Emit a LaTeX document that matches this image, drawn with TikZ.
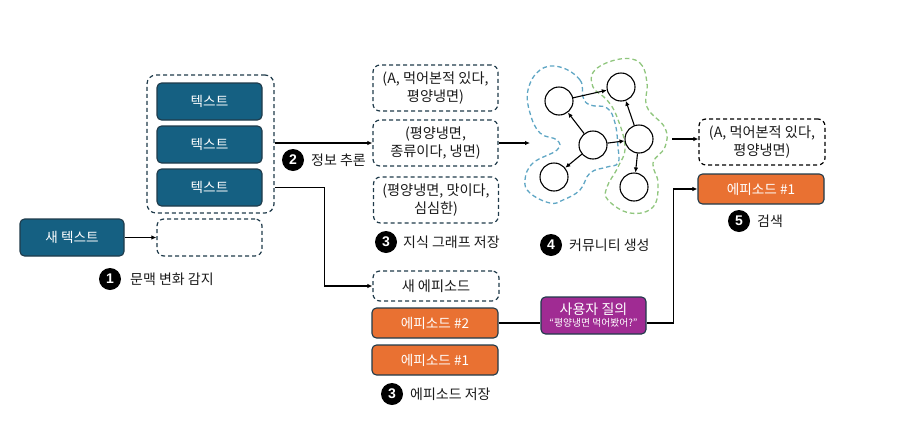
\documentclass[tikz,border=0pt]{standalone}
\usepackage{fontspec}
\setmainfont{Noto Sans CJK KR}
\newfontfamily\numfont{Liberation Sans}
\usetikzlibrary{arrows.meta}
\definecolor{tealbox}{HTML}{156082}
\definecolor{edgedark}{HTML}{1F3A4A}
\definecolor{orangebox}{HTML}{E97132}
\definecolor{purplebox}{HTML}{A02B93}
\definecolor{commblue}{HTML}{5FA6C4}
\definecolor{commgreen}{HTML}{90C67E}
\definecolor{inktext}{HTML}{1A1A1A}
\tikzset{
  solidbox/.style={draw=edgedark,line width=1.1pt,rounded corners=4.5pt,inner sep=0pt,text=white,font=\fontsize{13.6}{15}\selectfont,align=center},
  textbox/.style={solidbox,fill=tealbox,minimum width=105pt,minimum height=37pt},
  epbox/.style={solidbox,fill=orangebox,minimum width=126pt,minimum height=30pt},
  dashbox/.style={draw=edgedark,line width=1.2pt,dash pattern=on 4pt off 3pt,rounded corners=7pt,inner sep=0pt,text=inktext,font=\fontsize{14.2}{18}\selectfont,align=center},
  kgbox/.style={dashbox,minimum width=125pt,minimum height=46pt},
  ent/.style={circle,draw=black,line width=1.1pt,minimum size=28pt,inner sep=0pt},
  badge/.style={circle,fill=black,text=white,minimum size=22pt,inner sep=0pt,font=\numfont\bfseries\fontsize{14}{14}\selectfont},
  captext/.style={anchor=west,inner sep=0pt,text=inktext,font=\fontsize{14}{16}\selectfont},
  conn/.style={draw=black,line width=1.1pt},
  arr/.style={conn,-{Latex[length=5pt,width=4.5pt]}},
  commline/.style={line width=1.3pt,dash pattern=on 4.5pt off 3pt}
}
\begin{document}
\begin{tikzpicture}[x=1pt,y=-1pt]
\useasboundingbox (0,0) rectangle (911,437);
% communities
\draw[commline,draw=commblue] plot[smooth cycle,tension=.7] coordinates {
 (560,67) (580,80) (583,97) (590,105) (607,108) (615,123) (618,147) (618,163) (607,167) (590,173) (580,190) (563,200) (550,203) (530,193) (525,180) (533,163) (557,150) (557,140) (540,133) (530,113) (528,90) (540,70)};
\draw[commline,draw=commgreen] plot[smooth cycle,tension=.7] coordinates {
 (620,59) (640,63) (647,83) (647,107) (665,128) (665,147) (653,163) (658,183) (653,207) (630,213) (608,200) (607,187) (618,167) (625,147) (617,117) (607,100) (593,87) (595,70)};
% left column
\node[textbox] (tb1) at (209.5,101.5) {텍스트};
\node[textbox] (tb2) at (209.5,144.5) {텍스트};
\node[textbox] (tb3) at (209.5,187.5) {텍스트};
\node[dashbox,minimum width=127pt,minimum height=138pt,rounded corners=9pt] (outer) at (210.5,144) {};
\node[dashbox,minimum width=105pt,minimum height=37pt] (slot) at (209.5,237.5) {};
\node[textbox,minimum width=104pt] (newtext) at (72,237.5) {새 텍스트};
\node[badge] (b1) at (110,279) {1};
\node[captext] (c1) at (130,279) {문맥 변화 감지};
\node[badge] (b2) at (293,160) {2};
\node[captext] (c2) at (311,160) {정보 추론};
% knowledge graph triples
\node[kgbox] (kg1) at (435.5,88) {(A, 먹어본적 있다,\\평양냉면)};
\node[kgbox] (kg2) at (435.5,143) {(평양냉면,\\종류이다, 냉면)};
\node[kgbox] (kg3) at (436,200) {(평양냉면, 맛이다,\\심심한)};
\node[badge] (b3) at (386,242) {3};
\node[captext] (c3) at (403,242) {지식 그래프 저장};
% episodes
\node[dashbox,minimum width=126pt,minimum height=30pt] (epnew) at (436,286) {새 에피소드};
\node[epbox] (ep2) at (435,323) {에피소드 \#2};
\node[epbox] (ep1) at (435,360) {에피소드 \#1};
\node[badge] (b3e) at (392,394) {3};
\node[captext] (c3e) at (410,394) {에피소드 저장};
% query
\node[solidbox,fill=purplebox,minimum width=105pt,minimum height=37pt] (query) at (593.5,315.5) {\fontsize{14}{16}\selectfont 사용자 질의\\[-3pt]\fontsize{9.8}{11}\selectfont “평양냉면 먹어봤어?”};
% graph
\node[ent] (n1) at (559,101) {};
\node[ent] (n2) at (621,87) {};
\node[ent] (n3) at (593,145) {};
\node[ent] (n4) at (639,139) {};
\node[ent] (n5) at (554,177) {};
\node[ent] (n6) at (634,187) {};
\draw[arr] (n1) -- (n2);
\draw[arr] (n3) -- (n1);
\draw[arr] (n3) -- (n4);
\draw[arr] (n3) -- (n5);
\draw[arr] (n4) -- (n2);
\draw[arr] (n4) -- (n6);
\node[badge] (b4) at (551,245) {4};
\node[captext] (c4) at (569,245) {커뮤니티 생성};
% result
\node[kgbox,draw=black,minimum width=126pt] (res) at (762,142) {(A, 먹어본적 있다,\\평양냉면)};
\node[epbox] (resep) at (761,189) {에피소드 \#1};
\node[badge] (b5) at (739,221) {5};
\node[captext] (c5) at (757,221) {검색};
% connectors
\coordinate (graphin) at (530,143);
\coordinate (graphout) at (672,139);
\draw[arr] (newtext.east) -- (slot.west |- newtext.east);
\draw[arr] (outer.east |- kg2.west) -- (kg2.west);
\draw[arr] (outer.east |- tb3.east) -- ++(50,0) |- (epnew.west);
\draw[arr] (kg2.east) -- (graphin);
\draw[arr] (graphout) -- (res.west |- graphout);
\draw[conn] (ep2.east) -- (query.west |- ep2.east);
\draw[arr] (query.east |- ep2.east) -- ++(27,0) |- (resep.west);
\end{tikzpicture}
\end{document}
